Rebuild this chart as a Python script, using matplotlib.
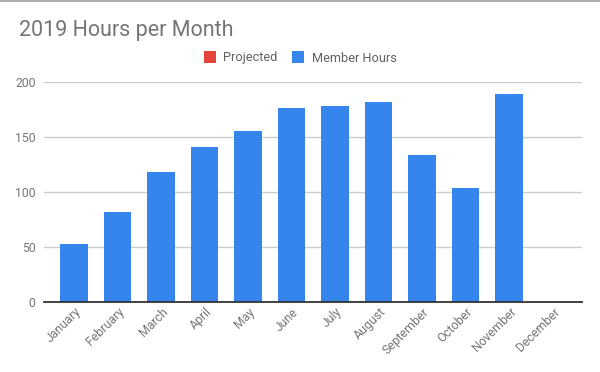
import matplotlib
matplotlib.use("Agg")
import matplotlib.pyplot as plt
from matplotlib.lines import Line2D
import matplotlib.transforms as mtransforms
import numpy as np

plt.rcParams['font.family'] = ['Roboto', 'DejaVu Sans']

months = ["January", "February", "March", "April", "May", "June",
          "July", "August", "September", "October", "November", "December"]
member_hours = [53, 82, 118, 141, 156, 177, 178, 182, 134, 104, 189, 0]
projected = [0] * 12
yticks = [0, 50, 100, 150, 200]

blue = "#3585ED"
red = "#E2463B"
grey_text = "#757575"

fig = plt.figure(figsize=(6, 3.72), dpi=100)
ax = fig.add_axes([44/600, 1-302/372, (581.7-44)/600, (302-82.3)/372])

x = np.arange(len(months))
ax.bar(x, projected, width=0.64, color=red, linewidth=0, label="Projected")
ax.bar(x, member_hours, width=0.64, color=blue, linewidth=0, label="Member Hours", zorder=3)

ax.set_xlim(-0.69, 11.67)
ax.set_ylim(0, 200)
ax.set_yticks(yticks)
ax.set_yticklabels([str(v) for v in yticks])
ax.yaxis.grid(True, color="#CCCCCC", linewidth=1)
ax.set_axisbelow(True)
for s in ["top", "right", "left"]:
    ax.spines[s].set_visible(False)
ax.spines["bottom"].set_color("#333333")
ax.spines["bottom"].set_linewidth(1.3)
ax.spines["bottom"].set_zorder(4)
ax.tick_params(axis="y", length=0, pad=6, labelsize=8.8, labelcolor=grey_text)
ax.tick_params(axis="x", length=0, pad=5, labelsize=8.8, labelcolor=grey_text)
ax.set_xticks(x)
ax.set_xticklabels(months, rotation=45, ha="right", va="center", rotation_mode="anchor")
offset = mtransforms.ScaledTranslation(5/100, -1/100, fig.dpi_scale_trans)
for lbl in ax.get_xticklabels():
    lbl.set_transform(lbl.get_transform() + offset)

fig.text(19/600, 1-36/372, "2019 Hours per Month", fontsize=15.5, color=grey_text,
         va="baseline", ha="left")

handles = [Line2D([], [], marker="s", linestyle="none", markersize=8.3,
                  markerfacecolor=red, markeredgewidth=0),
           Line2D([], [], marker="s", linestyle="none", markersize=8.3,
                  markerfacecolor=blue, markeredgewidth=0)]
fig.legend(handles, ["Projected", "Member Hours"], loc="center",
           bbox_to_anchor=(0.5, 1-58/372), ncol=2, frameon=False,
           fontsize=9.2, labelcolor="#616161", handletextpad=0.55,
           columnspacing=1.1, handlelength=1.0)

fig.add_artist(Line2D([0, 1], [1-0.8/372, 1-0.8/372], transform=fig.transFigure,
                      color="#9E9E9E", linewidth=1.2))

fig.savefig("out.png", dpi=100, facecolor="white")
